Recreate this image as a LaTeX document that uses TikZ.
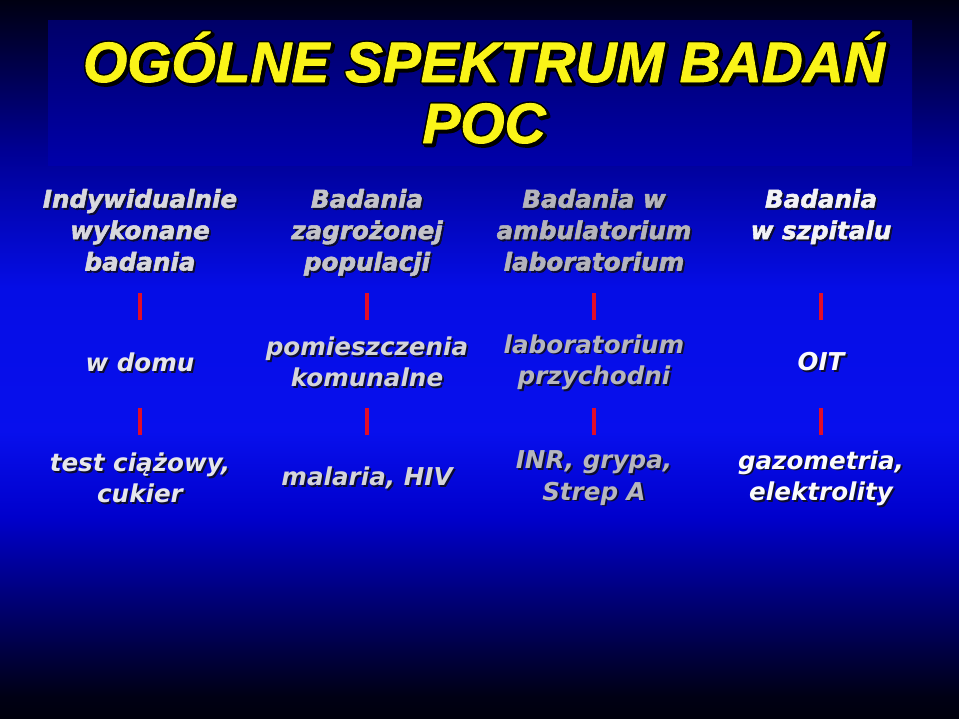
\documentclass[tikz,border=0pt]{standalone}
\usepackage{fontspec}
\setmainfont{DejaVu Sans}
\newfontfamily\titlefont{Liberation Sans}
\usetikzlibrary{positioning}

\definecolor{titleyellow}{RGB}{250,244,24}
\definecolor{shadowcol}{RGB}{12,12,48}
\definecolor{barred}{RGB}{226,12,40}
\definecolor{boxtop}{RGB}{0,0,104}
\definecolor{boxbot}{RGB}{0,0,170}
\definecolor{hdrA}{RGB}{216,216,222}
\definecolor{hdrB}{RGB}{196,196,202}
\definecolor{hdrC}{RGB}{180,180,188}
\definecolor{hdrD}{RGB}{242,242,246}
\definecolor{rowA}{RGB}{230,230,236}
\definecolor{rowB}{RGB}{212,212,218}
\definecolor{rowC}{RGB}{182,182,190}
\definecolor{rowD}{RGB}{250,250,252}

\pgfdeclareverticalshading{slidebg}{100bp}{%
  rgb(0bp)=(0,0,0.05); rgb(25bp)=(0,0,0.05); rgb(26.5bp)=(0,0,0.08);
  rgb(33bp)=(0,0,0.45); rgb(39bp)=(0,0,0.80); rgb(45bp)=(0.03,0.06,0.93);
  rgb(55bp)=(0.02,0.05,0.90); rgb(64.5bp)=(0,0,0.58); rgb(73.5bp)=(0,0,0.14);
  rgb(75bp)=(0,0,0.07); rgb(100bp)=(0,0,0.07)}

% fill + stroke the glyphs in the text colour, #1 = stroke width
\newcommand{\stroked}[1]{\special{pdf:literal direct 2 Tr #1 w 1 j}}

\tikzstyle{cell} = [inner sep=0pt, outer sep=0pt, align=center, font=\bfseries\itshape\fontsize{21}{26.8}\selectfont]
\tikzstyle{header} = [cell, anchor=north, font=\bfseries\itshape\fontsize{21}{26.8}\selectfont\stroked{0.45}]
\tikzstyle{ttl} = [inner sep=0pt, anchor=base, text=titleyellow, font=\titlefont\bfseries\itshape\fontsize{48.5}{52}\selectfont\stroked{0.7}]
\tikzstyle{ttlrim} = [ttl, text=black, font=\titlefont\bfseries\itshape\fontsize{48.5}{52}\selectfont\stroked{3.4}]
\tikzstyle{bar} = [draw=barred, line width=3.4pt]

% text with a dark drop shadow: name, placement, colour, text
\newcommand{\shadowtext}[4]{%
  \node[cell, #2, text=shadowcol, xshift=0.055cm, yshift=-0.055cm] {#4};
  \node[cell, #2, text=#3] (#1) {#4};}

\begin{document}
\begin{tikzpicture}[x=0.03cm, y=-0.03cm, node distance=6.81cm]
    \useasboundingbox (0,0) rectangle (959,718);
    \shade[shading=slidebg] (0,0) rectangle (959,718);
    \shade[top color=boxtop, bottom color=boxbot] (48,20) rectangle (912,165);

    % title: shadow, black rim, yellow face
    \node[ttlrim, xshift=0.07cm, yshift=-0.07cm] at (484,82) {OGÓLNE SPEKTRUM BADAŃ};
    \node[ttlrim] at (484,82) {OGÓLNE SPEKTRUM BADAŃ};
    \node[ttl] (title) at (484,82) {OGÓLNE SPEKTRUM BADAŃ};
    \node[ttlrim, below=1.83cm of title.base, anchor=base, xshift=0.07cm, yshift=-0.07cm] {POC};
    \node[ttlrim, below=1.83cm of title.base, anchor=base] {POC};
    \node[ttl, below=1.83cm of title.base, anchor=base] (poc) {POC};

    % middle row
    \shadowtext{dom}{at={(140,362)}}{rowA}{w domu}
    \shadowtext{komunalne}{right of=dom}{rowB}{pomieszczenia\\komunalne}
    \shadowtext{przychodnia}{right of=komunalne}{rowC}{laboratorium\\przychodni}
    \shadowtext{oit}{right of=przychodnia}{rowD}{OIT}

    % bottom row
    \shadowtext{ciaza}{below of=dom, node distance=3.48cm}{rowA}{test ciążowy,\\cukier}
    \shadowtext{malaria}{below of=komunalne, node distance=3.48cm}{rowB}{malaria, HIV}
    \shadowtext{grypa}{below of=przychodnia, node distance=3.48cm}{rowC}{INR, grypa,\\Strep A}
    \shadowtext{gazometria}{below of=oit, node distance=3.48cm}{rowD}{gazometria,\\elektrolity}

    % headers
    \coordinate (hdrtop) at (0,189);
    \shadowtext{indyw}{header, at={(dom |- hdrtop)}}{hdrA}{Indywidualnie\\wykonane\\badania}
    \shadowtext{populacja}{header, at={(komunalne |- hdrtop)}}{hdrB}{Badania\\zagrożonej\\populacji}
    \shadowtext{ambulatorium}{header, at={(przychodnia |- hdrtop)}}{hdrC}{Badania w\\ambulatorium\\laboratorium}
    \shadowtext{szpital}{header, at={(oit |- hdrtop)}}{hdrD}{Badania\\w szpitalu}

    % bars
    \coordinate (bartopA) at (0,293);
    \coordinate (barbotA) at (0,320);
    \coordinate (bartopB) at (0,408);
    \coordinate (barbotB) at (0,435);
    \foreach \n in {dom,komunalne,przychodnia,oit}{
        \draw[bar] (\n |- bartopA) -- (\n |- barbotA);
        \draw[bar] (\n |- bartopB) -- (\n |- barbotB);
    }
\end{tikzpicture}
\end{document}
